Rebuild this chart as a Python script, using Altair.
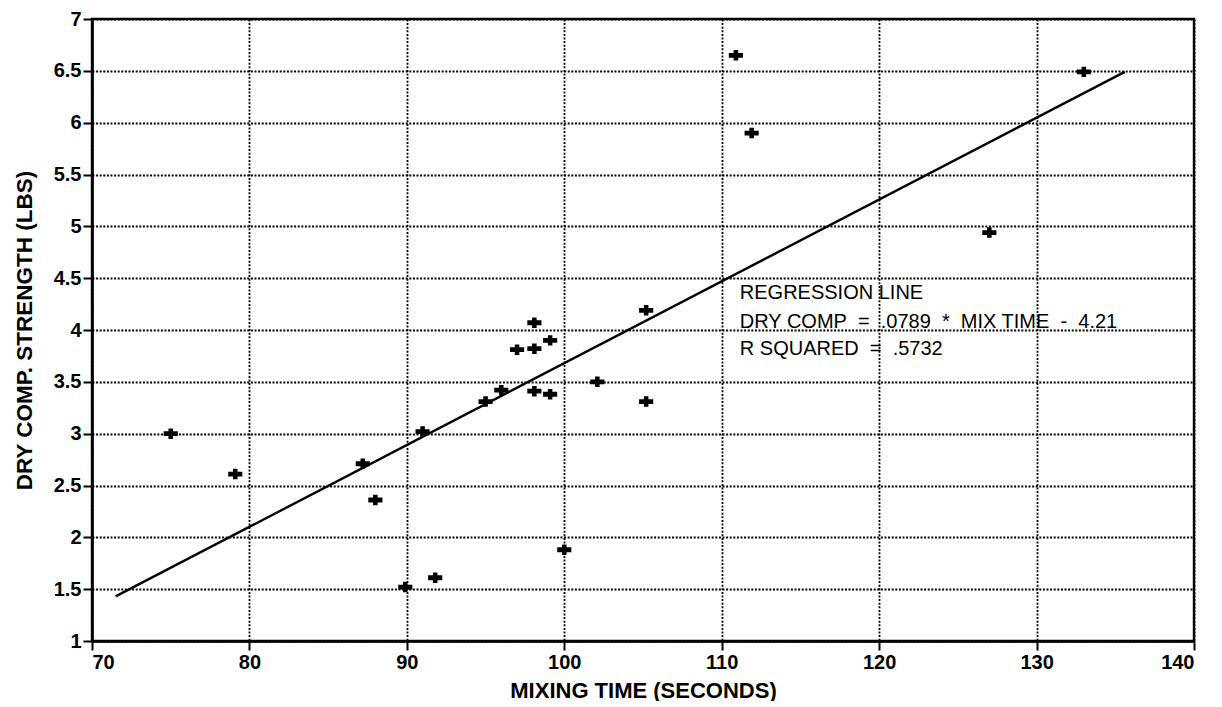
import altair as alt
import pandas as pd

# ---- data ----
mix_time = [75.0, 79.1, 87.2, 88.0, 89.9, 91.8, 91.0, 95.0, 96.0, 97.0, 98.1, 98.1,
            98.1, 99.1, 99.1, 100.0, 102.1, 105.2, 105.2, 110.9, 111.9, 127.0, 133.0]
dry_comp = [3.00, 2.61, 2.71, 2.36, 1.52, 1.61, 3.02, 3.31, 3.42, 3.81, 4.07, 3.82,
            3.41, 3.90, 3.38, 1.88, 3.50, 4.19, 3.31, 6.65, 5.90, 4.94, 6.49]

line_x = [71.5, 135.6]
line_y = [1.43, 6.49]

x_ticks = [70, 80, 90, 100, 110, 120, 130, 140]
y_ticks = [1, 1.5, 2, 2.5, 3, 3.5, 4, 4.5, 5, 5.5, 6, 6.5, 7]

NB = "\u00a0"
note_lines = [
    "REGRESSION LINE",
    f"DRY COMP{NB*2}={NB*2}.0789{NB*2}*{NB*2}MIX TIME{NB*2}-{NB*2}4.21",
    f"R SQUARED{NB*2}={NB*2}.5732",
]
note_y = [4.30, 4.02, 3.76]
note_x = [111.15, 111.15, 111.15]

FONT = "Liberation Sans"

pts = pd.DataFrame({"x": mix_time, "y": dry_comp})
reg = pd.DataFrame({"x": line_x, "y": line_y})
notes = pd.DataFrame({"x": note_x, "y": note_y, "t": note_lines})

xscale = alt.Scale(domain=[70, 140], nice=False, zero=False)
yscale = alt.Scale(domain=[1, 7], nice=False, zero=False)

xaxis = alt.Axis(values=x_ticks, title="MIXING TIME (SECONDS)", labelExpr="datum.value",
                 labelFontWeight="bold", titleY=56, titleBaseline="alphabetic")
yaxis = alt.Axis(values=y_ticks, title="DRY COMP. STRENGTH (LBS)", labelExpr="datum.value",
                 labelFontWeight="bold",
                 titleX=-61, titleY=311, titleAngle=-90, titleBaseline="alphabetic",
                 titleAlign="center", titleFontSize=22.5)

cross = ("M-1,-0.34L1,-0.34L1,0.34L-1,0.34Z"
         "M-0.32,-0.74L0.32,-0.74L0.32,0.74L-0.32,0.74Z")

points = alt.Chart(pts).mark_point(shape=cross, filled=True, color="black", opacity=1,
                                   size=200).encode(
    x=alt.X("x:Q", scale=xscale, axis=xaxis),
    y=alt.Y("y:Q", scale=yscale, axis=yaxis),
)

regline = alt.Chart(reg).mark_line(color="black", strokeWidth=2.4).encode(
    x=alt.X("x:Q", scale=xscale),
    y=alt.Y("y:Q", scale=yscale),
)

text = alt.Chart(notes).mark_text(align="left", baseline="alphabetic", font=FONT,
                                  fontSize=20, color="black").encode(
    x=alt.X("x:Q", scale=xscale),
    y=alt.Y("y:Q", scale=yscale),
    text="t:N",
)

chart = alt.layer(regline, points, text).properties(
    width=1102, height=622,
    autosize=alt.AutoSizeParams(type="none"),
    padding={"left": 84, "top": 11, "right": 20, "bottom": 60},
    background="white",
).configure_view(
    stroke="black", strokeWidth=2.4
).configure_axis(
    domainColor="black", domainWidth=2.6,
    tickColor="black", tickWidth=2, tickSize=9,
    labelFont=FONT, labelFontSize=20, labelFontWeight="bold", labelColor="black",
    labelPadding=2,
    grid=True, gridColor="black", gridDash=[2, 1.6], gridWidth=1.8, gridOpacity=1,
    titleFont=FONT, titleFontSize=22, titleFontWeight="bold", titleColor="black",
)

chart.save("out.html", embed_options={"renderer": "svg", "actions": False})
